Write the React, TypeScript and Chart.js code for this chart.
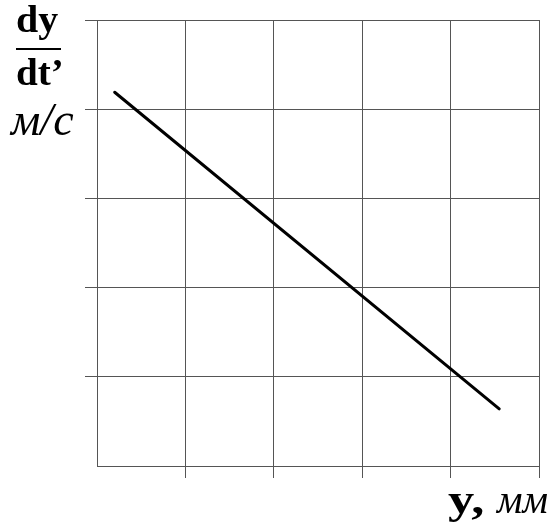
import React, { useEffect, useRef } from "react";
import { Chart, registerables } from "chart.js";

Chart.register(...registerables);

const xPoints = [0.2, 4.55];
const yPoints = [4.19, 0.64];
const xTicks = [0, 1, 2, 3, 4, 5];
const yTicks = [0, 1, 2, 3, 4, 5];

const GRID = "#555";

export default function App() {
  const ref = useRef<HTMLCanvasElement | null>(null);

  useEffect(() => {
    if (!ref.current) return;
    const chart = new Chart(ref.current, {
      type: "scatter",
      data: {
        datasets: [
          {
            data: xPoints.map((x, i) => ({ x, y: yPoints[i] })),
            showLine: true,
            borderColor: "#000",
            borderWidth: 3,
            pointRadius: 0,
            borderCapStyle: "round",
          },
        ],
      },
      options: {
        animation: false,
        responsive: false,
        layout: { padding: { left: 85, top: 20, right: 14, bottom: 50 } },
        plugins: { legend: { display: false }, tooltip: { enabled: false } },
        scales: {
          x: {
            type: "linear",
            min: xTicks[0],
            max: xTicks[xTicks.length - 1],
            afterBuildTicks: (s: any) => {
              s.ticks = xTicks.map((v) => ({ value: v }));
            },
            ticks: { display: false },
            grid: {
              color: GRID,
              lineWidth: 1,
              tickLength: 12,
              tickColor: (c: any) => (c.index === 0 ? "rgba(0,0,0,0)" : GRID),
            },
            border: { display: true, color: GRID, width: 1 },
          },
          y: {
            type: "linear",
            min: yTicks[0],
            max: yTicks[yTicks.length - 1],
            afterBuildTicks: (s: any) => {
              s.ticks = yTicks.map((v) => ({ value: v }));
            },
            ticks: { display: false },
            grid: {
              color: GRID,
              lineWidth: 1,
              tickLength: 12,
              tickColor: (c: any) => (c.index === 0 ? "rgba(0,0,0,0)" : GRID),
            },
            border: { display: true, color: GRID, width: 1 },
          },
        },
      },
    });
    return () => chart.destroy();
  }, []);

  const serif = "'Liberation Serif', 'Times New Roman', serif";
  const txt: React.CSSProperties = {
    position: "absolute",
    fontFamily: serif,
    lineHeight: 1,
    color: "#000",
    whiteSpace: "nowrap",
    transformOrigin: "left top",
  };

  return (
    <div style={{ position: "fixed", left: 0, top: 0, width: 553, height: 528, background: "#fff" }}>
      <canvas ref={ref} width={553} height={528} style={{ position: "absolute", left: 0, top: 0 }} />
      <div style={{ ...txt, left: 16, top: 0, fontSize: 38, fontWeight: "bold", transform: "scaleX(1.05)" }}>dy</div>
      <div style={{ position: "absolute", left: 16, top: 48, width: 45, height: 2, background: "#000" }} />
      <div style={{ ...txt, left: 16, top: 53, fontSize: 38, fontWeight: "bold", transform: "scaleX(1.03)" }}>dt’</div>
      <div style={{ ...txt, left: 11, top: 97, fontSize: 46, fontStyle: "italic" }}>м/с</div>
      <div style={{ ...txt, left: 448, top: 478, fontSize: 42, fontWeight: "bold", transform: "scaleX(1.25)" }}>y,</div>
      <div style={{ ...txt, left: 497, top: 480, fontSize: 40, fontStyle: "italic" }}>мм</div>
    </div>
  );
}
